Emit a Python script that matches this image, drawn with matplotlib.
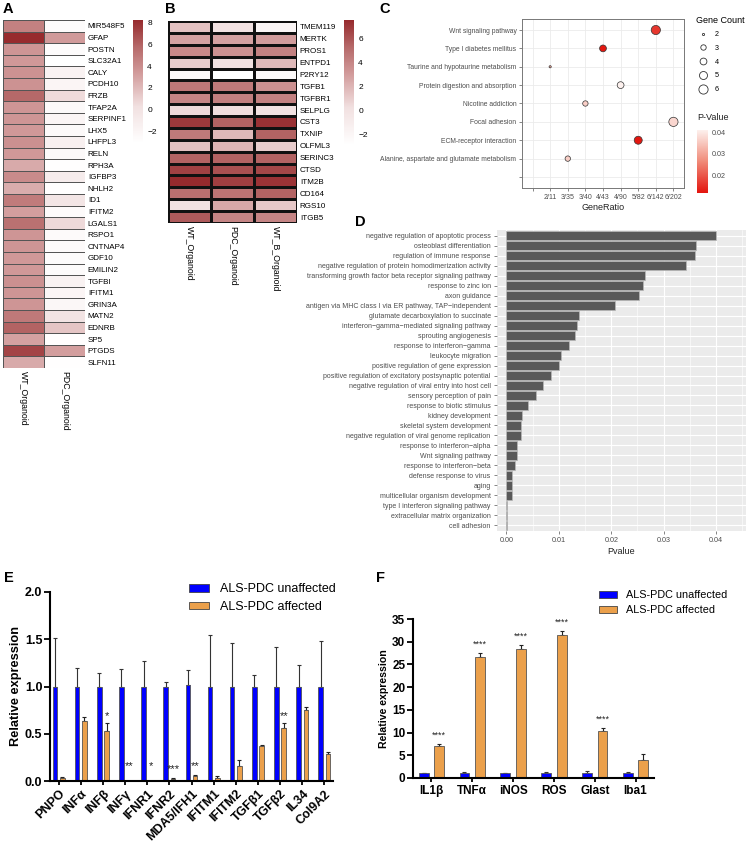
import numpy as np
import matplotlib
matplotlib.use("Agg")
import matplotlib.pyplot as plt
from matplotlib.colors import LinearSegmentedColormap
from matplotlib.lines import Line2D
from matplotlib.patches import Patch

plt.rcParams['font.family'] = ['Liberation Sans', 'DejaVu Sans']

# ---------------- data ----------------
genes_A = ["MIR548F5", "GFAP", "POSTN", "SLC32A1", "CALY", "PCDH10", "FRZB", "TFAP2A",
           "SERPINF1", "LHX5", "LHFPL3", "RELN", "RPH3A", "IGFBP3", "NHLH2", "ID1", "IFITM2",
           "LGALS1", "RSPO1", "CNTNAP4", "GDF10", "EMILIN2", "TGFBI", "IFITM1", "GRIN3A",
           "MATN2", "EDNRB", "SP5", "PTGDS", "SLFN11"]
samples_A = ["WT_Organoid", "PDC_Organoid"]
wt_A = [4.6, 8.2, 3.6, 3.5, 3.8, 3.8, 5.8, 3.6, 3.6, 3.5, 3.9, 3.5, 2.7, 4.1, 2.6, 4.9, 3.2,
        5.4, 3.6, 3.6, 3.5, 3.5, 3.9, 3.6, 3.6, 5.0, 6.0, 3.1, 7.2, 2.7]
pdc_A = [-2.6, 3.4, -2.6, -3.1, -1.6, -2.0, 0.5, -2.4, -2.0, -2.4, -1.5, -2.4, -3.0, -1.0,
         -3.0, -0.2, -2.5, 0.6, -2.5, -2.5, -2.6, -2.6, -1.6, -2.0, -2.2, 0.0, 1.5, -3.0,
         3.2, -3.0]

genes_B = ["TMEM119", "MERTK", "PROS1", "ENTPD1", "P2RY12", "TGFB1", "TGFBR1", "SELPLG",
           "CST3", "TXNIP", "OLFML3", "SERINC3", "CTSD", "ITM2B", "CD164", "RGS10", "ITGB5"]
samples_B = ["WT_Organoid", "PDC_Organoid", "WT_B_Organoid"]
wt_B = [1.5, 2.8, 3.8, 1.0, -2.2, 4.6, 4.0, 0.5, 7.0, 4.5, 1.5, 5.5, 6.7, 7.55, 5.0, 0.0, 5.8]
pdc_B = [0.0, 2.8, 3.5, 0.2, -2.9, 4.5, 4.3, 0.3, 5.5, 1.8, 2.0, 5.5, 6.2, 6.8, 4.8, 2.5, 4.0]
wtb_B = [-2.0, 3.0, 4.2, 1.8, -2.4, 3.5, 4.2, 0.0, 7.3, 5.5, 1.0, 5.5, 6.5, 7.2, 5.5, 1.2, 4.0]

terms_C = ["Wnt signaling pathway", "Type I diabetes mellitus",
           "Taurine and hypotaurine metabolism", "Protein digestion and absorption",
           "Nicotine addiction", "Focal adhesion", "ECM-receptor interaction",
           "Alanine, aspartate and glutamate metabolism", ""]
ratio_levels_C = ["", "2/11", "3/35", "3/40", "4/43", "4/90", "5/82", "6/142", "6/202"]
ratio_C = ["6/142", "4/43", "2/11", "4/90", "3/40", "6/202", "5/82", "3/35"]
count_C = [6, 4, 2, 4, 3, 6, 5, 3]
pval_C = [0.016, 0.012, 0.030, 0.041, 0.036, 0.037, 0.012, 0.036]

terms_D = ["negative regulation of apoptotic process", "osteoblast differentiation",
           "regulation of immune response",
           "negative regulation of protein homodimerization activity",
           "transforming growth factor beta receptor signaling pathway",
           "response to zinc ion", "axon guidance",
           "antigen via MHC class I via ER pathway, TAP\u2212independent",
           "glutamate decarboxylation to succinate",
           "interferon\u2212gamma\u2212mediated signaling pathway",
           "sprouting angiogenesis", "response to interferon\u2212gamma",
           "leukocyte migration", "positive regulation of gene expression",
           "positive regulation of excitatory postsynaptic potential",
           "negative regulation of viral entry into host cell",
           "sensory perception of pain", "response to biotic stimulus",
           "kidney development", "skeletal system development",
           "negative regulation of viral genome replication",
           "response to interferon\u2212alpha", "Wnt signaling pathway",
           "response to interferon\u2212beta", "defense response to virus", "aging",
           "multicellular organism development", "type I interferon signaling pathway",
           "extracellular matrix organization", "cell adhesion"]
pval_D = [0.0400, 0.0362, 0.0360, 0.0343, 0.0264, 0.0260, 0.0252, 0.0207, 0.0139, 0.0134,
          0.0130, 0.0120, 0.0105, 0.0101, 0.0085, 0.0069, 0.0057, 0.0042, 0.0030, 0.0027,
          0.0027, 0.0021, 0.0020, 0.0017, 0.0011, 0.0011, 0.0011, 0.0001, 0.0001, 0.00005]

genes_E = ["PNPO", "INF\u03b1", "INF\u03b2", "INF\u03b3", "IFNR1", "IFNR2", "MDA5/IFH1",
           "IFITM1", "IFITM2", "TGF\u03b21", "TGF\u03b22", "IL34", "Col9A2"]
unaff_E = [1.0, 1.0, 1.0, 1.0, 1.0, 1.0, 1.02, 1.0, 1.0, 1.0, 1.0, 1.0, 1.0]
unaff_E_err = [0.51, 0.20, 0.14, 0.19, 0.27, 0.05, 0.15, 0.55, 0.46, 0.12, 0.42, 0.23, 0.48]
aff_E = [0.03, 0.63, 0.53, 0.0, 0.0, 0.02, 0.05, 0.03, 0.16, 0.37, 0.56, 0.75, 0.29]
aff_E_err = [0.01, 0.05, 0.08, 0.0, 0.0, 0.01, 0.01, 0.02, 0.06, 0.01, 0.05, 0.03, 0.02]
stars_E = ["", "", "*", "**", "*", "***", "**", "", "", "", "**", "", ""]
star_y_E = [0, 0, 0.63, 0.10, 0.10, 0.07, 0.10, 0, 0, 0, 0.63, 0, 0]

genes_F = ["IL1\u03b2", "TNF\u03b1", "iNOS", "ROS", "Glast", "Iba1"]
unaff_F = [1.0, 1.0, 1.0, 1.0, 1.0, 1.0]
unaff_F_err = [0.2, 0.25, 0.15, 0.3, 0.5, 0.35]
aff_F = [7.0, 26.6, 28.3, 31.5, 10.4, 4.0]
aff_F_err = [0.5, 0.9, 1.0, 0.9, 0.5, 1.2]
stars_F = ["****", "****", "****", "****", "****", ""]

# ---------------- layout helpers ----------------
W, H = 747, 852
fig = plt.figure(figsize=(W / 100, H / 100), dpi=100)


def box(x0, y0, x1, y1):
    return [x0 / W, 1 - y1 / H, (x1 - x0) / W, (y1 - y0) / H]


def ftext(x, y, s, **kw):
    fig.text(x / W, 1 - y / H, s, **kw)


BLUE = "#0000FF"
ORANGE = "#EBA04B"
heat_cmap = LinearSegmentedColormap.from_list(
    "hm", [(0.0, "#ffffff"), (0.3, "#f1e0e0"), (0.58, "#d09898"), (0.78, "#b66a6a"),
           (1.0, "#962a2d")], N=256)

# ---------------- Panel A ----------------
axA = fig.add_axes(box(3, 20, 85, 368))
mA = axA.pcolormesh(np.column_stack([wt_A, pdc_A]), cmap=heat_cmap, vmin=-3.1, vmax=8.25,
                    edgecolors="#555555", linewidth=0.6)
axA.set_ylim(len(genes_A), 0)
axA.set_xlim(0, 2)
axA.yaxis.tick_right()
axA.set_yticks(np.arange(len(genes_A)) + 0.5, genes_A, fontsize=5.8)
axA.set_xticks(np.arange(2) + 0.5, samples_A, rotation=270, fontsize=6.3)
axA.tick_params(length=0, pad=2)
for s in axA.spines.values():
    s.set_visible(False)
caxA = fig.add_axes(box(133, 20, 143, 143))
cbA = fig.colorbar(mA, cax=caxA, ticks=[-2, 0, 2, 4, 6, 8])
cbA.outline.set_visible(False)
caxA.tick_params(length=0, labelsize=6, pad=3)

# ---------------- Panel B ----------------
axB = fig.add_axes(box(168, 21, 297, 223))
mB = axB.pcolormesh(np.column_stack([wt_B, pdc_B, wtb_B]), cmap=heat_cmap, vmin=-2.9,
                    vmax=7.55, edgecolors="#111111", linewidth=0.8)
axB.set_ylim(len(genes_B), 0)
axB.set_xlim(0, 3)
axB.yaxis.tick_right()
axB.set_yticks(np.arange(len(genes_B)) + 0.5, genes_B, fontsize=5.8)
axB.set_xticks(np.arange(3) + 0.5, samples_B, rotation=270, fontsize=6.3)
axB.tick_params(length=0, pad=2)
for s in axB.spines.values():
    s.set_visible(False)
caxB = fig.add_axes(box(344, 20, 354, 145))
cbB = fig.colorbar(mB, cax=caxB, ticks=[-2, 0, 2, 4, 6])
cbB.outline.set_visible(False)
caxB.tick_params(length=0, labelsize=6, pad=3)

# ---------------- Panel C ----------------
axC = fig.add_axes(box(522, 19, 684, 188))
p_cmap = LinearSegmentedColormap.from_list("pv", ["#e3140e", "#f08a78", "#fdf1ee"], N=256)
size_px = {2: 2.2, 3: 5.4, 4: 6.8, 5: 8.0, 6: 9.2}
xs = [ratio_levels_C.index(r) for r in ratio_C]
ys = list(range(len(ratio_C)))
sizes = [(0.72 * size_px[c]) ** 2 for c in count_C]
scC = axC.scatter(xs, ys, s=sizes, c=pval_C, cmap=p_cmap, vmin=0.0116, vmax=0.041,
                  edgecolors="#333333", linewidths=0.5, zorder=3)
axC.set_xticks(range(len(ratio_levels_C)), ratio_levels_C, fontsize=5.0, color="#4d4d4d")
axC.set_yticks(range(len(terms_C)), terms_C, fontsize=4.85, color="#4d4d4d")
axC.set_xlim(-0.6, len(ratio_levels_C) - 0.4)
axC.set_ylim(len(terms_C) - 0.4, -0.6)
axC.grid(True, color="#ebebeb", lw=0.6)
axC.set_axisbelow(True)
axC.tick_params(length=2.5, width=0.5, color="#555555", pad=1.5)
for s in axC.spines.values():
    s.set_color("#777777")
    s.set_linewidth(0.7)
axC.set_xlabel("GeneRatio", fontsize=6.5, labelpad=2, color="#222222")
caxC = fig.add_axes(box(697, 130, 708, 193))
cbC = fig.colorbar(scC, cax=caxC, ticks=[0.02, 0.03, 0.04])
cbC.outline.set_visible(False)
caxC.tick_params(length=0, labelsize=5.2, pad=3, labelcolor="#4d4d4d")
ftext(697, 117, "P-Value", fontsize=6.5, va="center", color="#222222")
handles = [Line2D([], [], ls="", marker="o", ms=0.72 * size_px[c], mfc="white",
                  mec="#333333", mew=0.6) for c in sorted(size_px)]
fig.legend(handles, [str(c) for c in sorted(size_px)], title="Gene Count",
           loc="upper left", bbox_to_anchor=(692 / W, 1 - 12 / H), frameon=False,
           fontsize=5.2, title_fontsize=6.5, labelspacing=0.92, handletextpad=0.6,
           borderpad=0, alignment="left")

# ---------------- Panel D ----------------
axD = fig.add_axes(box(497, 230, 746, 531))
yD = np.arange(len(terms_D))
axD.barh(yD, pval_D, height=0.9, color="#595959", edgecolor="#b8b8b8", linewidth=0.5,
         zorder=3)
axD.set_facecolor("#ebebeb")
axD.set_yticks(yD, terms_D, fontsize=5.05, color="#4d4d4d")
axD.set_xticks([0, 0.01, 0.02, 0.03, 0.04], ["0.00", "0.01", "0.02", "0.03", "0.04"],
               fontsize=5.2, color="#4d4d4d")
axD.set_xticks([0.005, 0.015, 0.025, 0.035, 0.045], minor=True)
axD.set_xlim(-0.0018, 0.0457)
axD.set_ylim(len(terms_D) - 0.4, -0.6)
axD.grid(True, which="major", color="white", lw=0.8)
axD.grid(True, which="minor", axis="x", color="white", lw=0.4)
axD.set_axisbelow(True)
axD.tick_params(which="major", length=2.5, width=0.5, color="#555555", pad=2)
axD.tick_params(which="minor", length=0)
for s in axD.spines.values():
    s.set_visible(False)
axD.set_xlabel("Pvalue", fontsize=6.5, labelpad=2, color="#222222")


# ---------------- bar panel helper ----------------
def bar_panel(ax, names, unaff, unaff_err, aff, aff_err, off, width, ymax, yticks,
              ytlabels, fs_tick, fs_lab, rot):
    x = np.arange(len(names))
    ax.bar(x - off, unaff, width, color=BLUE, edgecolor="#555555", linewidth=0.6, zorder=2)
    ax.bar(x + off, aff, width, color=ORANGE, edgecolor="#555555", linewidth=0.6, zorder=2)
    ax.errorbar(x - off, unaff, yerr=[np.zeros(len(x)), unaff_err], fmt="none",
                ecolor="#333333", elinewidth=0.8, capsize=1.5, capthick=0.8, zorder=1)
    ax.errorbar(x + off, aff, yerr=[np.zeros(len(x)), aff_err], fmt="none",
                ecolor="#222222", elinewidth=0.8, capsize=1.5, capthick=0.8, zorder=1)
    ax.set_ylim(0, ymax)
    ax.set_xlim(-0.39 if rot else -0.45, len(names) - 0.61 if rot else len(names) - 0.55)
    ax.set_yticks(yticks, ytlabels, fontsize=fs_tick, fontweight="bold")
    if rot:
        ax.set_xticks(x, names, fontsize=fs_tick, fontweight="bold", rotation=45,
                      ha="right", rotation_mode="anchor")
    else:
        ax.set_xticks(x, names, fontsize=fs_tick, fontweight="bold")
    ax.set_ylabel("Relative expression", fontsize=fs_lab, fontweight="bold", labelpad=2)
    for s in ["top", "right"]:
        ax.spines[s].set_visible(False)
    for s in ["left", "bottom"]:
        ax.spines[s].set_linewidth(1.5)
    ax.tick_params(axis="y", length=4, width=1.3, pad=1.5)
    ax.tick_params(axis="x", length=3, width=1.3, pad=2)
    return x


# ---------------- Panel E ----------------
axE = fig.add_axes(box(50, 592, 333, 781))
xE = bar_panel(axE, genes_E, unaff_E, unaff_E_err, aff_E, aff_E_err, 0.165, 0.21, 2.0,
               [0, 0.5, 1.0, 1.5, 2.0], ["0.0", "0.5", "1.0", "1.5", "2.0"], 9, 9.2, True)
for xi, st, sy in zip(xE, stars_E, star_y_E):
    if st:
        axE.text(xi + 0.165, sy, st, ha="center", va="bottom", fontsize=8, color="#222222")
axE.legend([Patch(facecolor=BLUE, edgecolor="#444444", lw=0.6),
            Patch(facecolor=ORANGE, edgecolor="#444444", lw=0.6)],
           ["ALS-PDC unaffected", "ALS-PDC affected"], loc="upper left",
           bbox_to_anchor=(183 / W, 1 - 577 / H), bbox_transform=fig.transFigure,
           frameon=False, fontsize=9, handlelength=1.6, handleheight=0.55,
           labelspacing=0.45, handletextpad=0.9, borderpad=0)

# ---------------- Panel F ----------------
axF = fig.add_axes(box(413, 619, 654, 778))
xF = bar_panel(axF, genes_F, unaff_F, unaff_F_err, aff_F, aff_F_err, 0.19, 0.24, 35,
               [0, 5, 10, 15, 20, 25, 30, 35], ["0", "5", "10", "15", "20", "25", "30", "35"],
               8.5, 7.6, False)
for xi, st, top, e in zip(xF, stars_F, aff_F, aff_F_err):
    if st:
        axF.text(xi + 0.19, top + e + 1.0, st, ha="center", va="bottom", fontsize=6.5,
                 color="#222222")
axF.legend([Patch(facecolor=BLUE, edgecolor="#444444", lw=0.6),
            Patch(facecolor=ORANGE, edgecolor="#444444", lw=0.6)],
           ["ALS-PDC unaffected", "ALS-PDC affected"], loc="upper left",
           bbox_to_anchor=(594 / W, 1 - 585 / H), bbox_transform=fig.transFigure,
           frameon=False, fontsize=7.8, handlelength=1.6, handleheight=0.55,
           labelspacing=0.45, handletextpad=0.9, borderpad=0)

# ---------------- panel letters ----------------
for lx, ly, lt in [(3, 9, "A"), (165, 9, "B"), (379, 9, "C"), (355, 222, "D"),
                   (4, 578, "E"), (376, 578, "F")]:
    ftext(lx, ly, lt, fontsize=10.5, fontweight="bold", va="center")

fig.savefig("out.png", dpi=100)
